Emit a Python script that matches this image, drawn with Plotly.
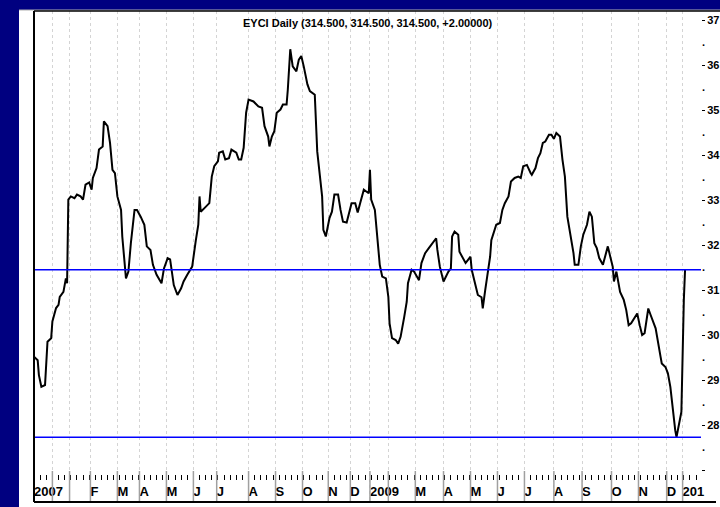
import plotly.graph_objects as go

# ---------------- data (trading-day index vs EYCI value, c/kg) ----------------
day_index = [0, 3, 4, 6, 9, 11, 14, 15, 18, 20, 21, 24, 26, 27, 28, 30, 33, 35, 38, 40,
             42, 45, 47, 48, 51, 53, 56, 57, 60, 62, 64, 66, 68, 71, 72, 75, 77, 79, 82, 84,
             87, 90, 92, 95, 97, 100, 104, 106, 109, 111, 114, 117, 120, 122, 125, 129, 132, 134, 135, 136,
             139, 143, 145, 147, 150, 151, 154, 156, 159, 161, 165, 167, 169, 171, 173, 175, 179, 183, 186, 188,
             191, 192, 194, 196, 198, 201, 203, 206, 207, 208, 209, 211, 214, 216, 218, 220, 223, 225, 229, 231,
             233, 235, 236, 238, 241, 243, 245, 248, 250, 252, 255, 257, 259, 262, 264, 266, 269, 271, 273, 274,
             275, 278, 280, 282, 284, 287, 289, 290, 292, 295, 297, 299, 302, 304, 305, 308, 310, 312, 314, 316,
             319, 322, 324, 328, 329, 331, 334, 336, 338, 340, 341, 343, 346, 347, 350, 352, 354, 356, 357, 360,
             362, 365, 366, 368, 370, 372, 373, 375, 377, 380, 382, 384, 387, 389, 392, 395, 397, 399, 402, 405,
             406, 409, 411, 413, 415, 417, 420, 422, 424, 426, 429, 431, 433, 435, 438, 440, 441, 444, 446, 448,
             451, 453, 455, 457, 459, 461, 464, 466, 468, 470, 472, 473, 475, 478, 481, 483, 485, 487, 490, 492,
             494, 496, 498, 500, 501, 503, 505, 507, 511, 512, 515, 517, 519, 521, 523, 524, 526, 528, 530, 531]
eyci = [295.2, 294.4, 291.1, 288.5, 288.9, 298.5, 299.3, 303.0, 306.0, 306.7, 308.5, 309.6, 312.6, 311.5, 330.1, 330.8, 330.4, 331.2, 330.8, 330.1,
        333.4, 333.9, 332.3, 334.9, 337.1, 341.2, 341.9, 347.5, 346.4, 342.7, 336.7, 336.0, 330.8, 327.8, 321.9, 312.6, 314.1, 320.4, 327.8, 327.8,
        326.3, 324.5, 319.7, 318.9, 315.6, 313.4, 311.5, 314.8, 317.1, 316.8, 311.1, 308.9, 310.4, 311.9, 313.4, 315.2, 321.1, 324.5, 330.8, 327.4,
        328.2, 329.3, 335.2, 337.5, 338.6, 340.5, 340.8, 339.0, 339.3, 341.2, 340.5, 339.0, 339.0, 341.6, 349.4, 352.3, 351.9, 350.8, 350.5, 346.4,
        344.1, 341.9, 344.1, 345.3, 349.4, 350.1, 351.2, 351.2, 354.5, 360.5, 363.5, 359.7, 358.6, 361.2, 362.0, 359.7, 355.7, 354.2, 353.4, 340.8,
        336.0, 330.8, 323.4, 321.9, 326.0, 327.4, 331.2, 331.2, 327.8, 325.2, 325.0, 327.1, 329.3, 329.3, 327.2, 329.3, 332.3, 331.9, 331.5, 336.7,
        330.1, 327.8, 321.9, 315.6, 313.0, 312.6, 308.5, 302.6, 299.3, 298.9, 298.1, 299.6, 304.1, 307.4, 311.5, 314.5, 314.1, 313.1, 312.2, 316.0,
        318.2, 319.3, 320.0, 321.5, 318.9, 315.2, 311.9, 313.0, 314.1, 314.8, 321.9, 323.0, 322.3, 318.5, 317.1, 316.0, 316.7, 317.4, 314.5, 311.5,
        308.9, 308.4, 305.9, 310.0, 313.7, 317.4, 321.1, 322.6, 324.5, 324.9, 327.8, 329.3, 330.8, 334.1, 334.9, 335.2, 334.9, 337.5, 337.8, 336.0,
        335.6, 337.1, 339.3, 340.4, 342.7, 343.0, 344.5, 344.5, 343.6, 344.9, 344.1, 339.0, 335.2, 326.3, 321.5, 318.2, 315.6, 315.6, 319.7, 322.3,
        324.5, 327.4, 326.3, 320.4, 319.3, 317.1, 315.6, 317.4, 319.7, 317.4, 315.2, 311.9, 314.1, 309.6, 307.8, 305.6, 302.2, 302.6, 304.1, 304.8,
        302.2, 300.0, 300.4, 304.1, 305.9, 304.4, 302.9, 301.5, 295.2, 293.7, 292.9, 291.5, 288.5, 283.3, 278.8, 277.3, 280.3, 282.9, 307.8, 314.5]

# month starts on the trading-day index, with their labels
month_start_index = [0, 15, 29, 46, 68, 86, 108, 130, 149, 175, 197, 219, 240, 258,
                     274, 289, 311, 334, 356, 378, 400, 424, 447, 471, 493, 516, 529]
month_labels = ["2007", "", "", "F", "M", "A", "M", "J", "J", "A", "S", "O", "N", "D",
                "2009", "", "M", "A", "M", "J", "J", "A", "S", "O", "N", "D", "201"]

# right-axis ticks (labels as shown on the chart)
y_tick_vals = [270, 280, 290, 300, 310, 320, 330, 340, 350, 360, 370]
y_tick_text = ["", "28", "29", "30", "31", "32", "33", "34", "35", "36", "37"]
y_dot_vals = [275, 285, 295, 305, 315, 325, 335, 345, 355, 365]

title_text = "EYCI Daily (314.500, 314.500, 314.500, +2.00000)"
last_close = eyci[-1]
low_value = min(eyci)

# ---------------- styling / layout ----------------
W, H = 720, 507
ML, MR, MT, MB = 34, 19, 11, 5
PW, PH = W - ML - MR, H - MT - MB
XR = [0, 544]
YR = [262.9, 372.0]
FONT = "Liberation Sans, Arial, sans-serif"
NAVY = "#000080"

def px_x(p):   # pixel -> paper x
    return (p - ML) / PW

def px_y(p):   # pixel (from top) -> paper y
    return (H - MB - p) / PH

label_row = YR[0] + (YR[1] - YR[0]) * px_y(493)

fig = go.Figure()

fig.add_trace(go.Scatter(x=day_index, y=eyci, mode="lines",
                         line=dict(color="black", width=2), hoverinfo="skip",
                         showlegend=False))

fig.add_trace(go.Scatter(x=month_start_index, y=[label_row] * len(month_start_index),
                         text=month_labels, mode="text", textposition="middle right",
                         textfont=dict(family=FONT, size=13, color="black", weight="bold"),
                         cliponaxis=False, xaxis="x2", yaxis="y", showlegend=False,
                         hoverinfo="skip"))

fig.add_trace(go.Scatter(x=[None], y=[None], yaxis="y2", showlegend=False))

shapes = []
# white panel
shapes.append(dict(type="rect", xref="paper", yref="paper",
                   x0=px_x(19), x1=px_x(721), y0=px_y(508), y1=px_y(10),
                   fillcolor="white", line=dict(width=0), layer="below"))
# horizontal reference lines
for v in (last_close, low_value):
    shapes.append(dict(type="line", xref="paper", yref="y", x0=0, x1=1, y0=v, y1=v,
                       line=dict(color="#0000ff", width=1.5), layer="above"))
# separators in the label strip
for m in month_start_index:
    shapes.append(dict(type="line", xref="x", yref="paper", x0=m, x1=m,
                       y0=0, y1=px_y(471), line=dict(color="#a0a0a0", width=1.5)))
# frame
shapes.append(dict(type="line", xref="paper", yref="paper", x0=0, x1=0, y0=0, y1=1,
                   line=dict(color="black", width=2)))
shapes.append(dict(type="line", xref="paper", yref="paper", x0=px_x(19), x1=px_x(720),
                   y0=px_y(10), y1=px_y(10), line=dict(color="#b0b0b0", width=1)))
shapes.append(dict(type="line", xref="paper", yref="paper", x0=0, x1=px_x(720),
                   y0=1, y1=1, line=dict(color="black", width=1.5)))
shapes.append(dict(type="line", xref="paper", yref="paper", x0=0, x1=px_x(716),
                   y0=0, y1=0, line=dict(color="black", width=2)))

fig.update_layout(
    width=W, height=H,
    margin=dict(l=ML, r=MR, t=MT, b=MB, autoexpand=False),
    paper_bgcolor=NAVY, plot_bgcolor="white",
    showlegend=False,
    shapes=shapes,
    xaxis=dict(range=XR, tickmode="array", tickvals=month_start_index,
               showticklabels=False, ticks="", showgrid=True, gridcolor="#d4d4d4",
               gridwidth=1, griddash="dot", zeroline=False, showline=False, fixedrange=True),
    xaxis2=dict(range=XR, overlaying="x", anchor="free", position=px_y(474), side="bottom",
                tickmode="linear", tick0=0, dtick=5, ticks="outside", ticklen=5,
                tickcolor="black", tickwidth=1, showticklabels=False, showgrid=False,
                zeroline=False, showline=False),
    yaxis=dict(range=YR, side="right", tickmode="array", tickvals=y_tick_vals,
               ticktext=y_tick_text, ticks="outside", ticklen=3, tickcolor="black",
               tickwidth=1, showgrid=False, zeroline=False, showline=False,
               tickfont=dict(family=FONT, size=11, color="black", weight="bold"),
               automargin=False),
    yaxis2=dict(range=YR, overlaying="y", side="right", tickmode="array",
                tickvals=y_dot_vals, ticktext=["."] * len(y_dot_vals), ticks="",
                showgrid=False, zeroline=False, showline=False, automargin=False,
                tickfont=dict(family=FONT, size=11, color="black", weight="bold")),
    annotations=[dict(text=title_text, xref="paper", yref="paper", x=0.5, y=px_y(23),
                      xanchor="center", yanchor="middle", showarrow=False,
                      font=dict(family=FONT, size=11, color="black", weight="bold"))],
)

fig.write_html("out.html", config={"displayModeBar": False},
               post_script="document.body.style.margin='0';document.body.style.padding='0';")
